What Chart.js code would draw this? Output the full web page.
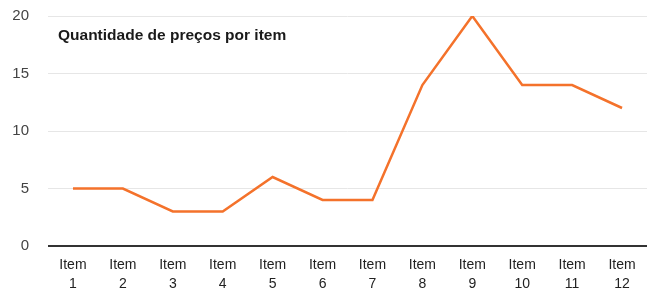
<!DOCTYPE html>
<html>
<head>
<meta charset="utf-8">
<script src="https://cdn.jsdelivr.net/npm/chart.js@4/dist/chart.umd.min.js"></script>
<style>
  html, body { margin: 0; padding: 0; background: #fff; }
  #wrap { width: 651px; height: 295px; }
</style>
</head>
<body>
<div id="wrap"><canvas id="chart" width="651" height="295"></canvas></div>
<script>
// data
var categories = [["Item", "1"], ["Item", "2"], ["Item", "3"], ["Item", "4"], ["Item", "5"], ["Item", "6"],
    ["Item", "7"], ["Item", "8"], ["Item", "9"], ["Item", "10"], ["Item", "11"], ["Item", "12"]];
var precos = [5, 5, 3, 3, 6, 4, 4, 14, 20, 14, 14, 12];
var yTicks = [0, 5, 10, 15, 20];
var chartTitle = "Quantidade de preços por item";

// title drawn inside the plot area, top left
var innerTitle = {
    id: "innerTitle",
    afterDraw: function (chart) {
        var ctx = chart.ctx;
        ctx.save();
        ctx.font = "bold 15.5px 'Liberation Sans', Arial, sans-serif";
        ctx.fillStyle = "#1a1a1a";
        ctx.textBaseline = "middle";
        ctx.fillText(chartTitle, 58, 36);
        ctx.restore();
    }
};

new Chart(document.getElementById("chart"), {
    type: "line",
    data: {
        labels: categories,
        datasets: [
            {
                label: chartTitle,
                data: precos,
                borderColor: "#f4722b",
                borderWidth: 2.5,
                pointRadius: 0,
                tension: 0,
                fill: false,
            },
        ],
    },
    options: {
        responsive: false,
        animation: false,
        layout: { padding: { top: 16, right: 4, left: 0, bottom: 0 } },
        plugins: {
            legend: { display: false },
            title: { display: false },
            tooltip: { enabled: false },
        },
        scales: {
            x: {
                offset: true,
                grid: { display: false, drawTicks: false },
                border: { display: false },
                ticks: {
                    color: "#222",
                    padding: 9,
                    maxRotation: 0,
                    autoSkip: false,
                    font: { family: "'Liberation Sans', Arial, sans-serif", size: 14, lineHeight: 1.4 },
                },
                afterFit: function (scale) {
                    scale.height = 49;
                    scale.paddingLeft = 0;
                    scale.paddingRight = 0;
                },
            },
            y: {
                min: 0,
                max: 20,
                afterBuildTicks: function (scale) {
                    scale.ticks = yTicks.map(function (v) { return { value: v }; });
                },
                grid: {
                    drawTicks: false,
                    color: function (c) { return c.tick && c.tick.value === 0 ? "#333" : "#e6e6e6"; },
                    lineWidth: function (c) { return c.tick && c.tick.value === 0 ? 2 : 1; },
                },
                border: { display: false },
                ticks: {
                    color: "#444",
                    padding: 19,
                    font: { family: "'Liberation Sans', Arial, sans-serif", size: 15 },
                },
                afterFit: function (scale) {
                    scale.width = 48;
                    scale.paddingTop = 0;
                    scale.paddingBottom = 0;
                },
            },
        },
    },
    plugins: [innerTitle],
});
</script>
</body>
</html>
